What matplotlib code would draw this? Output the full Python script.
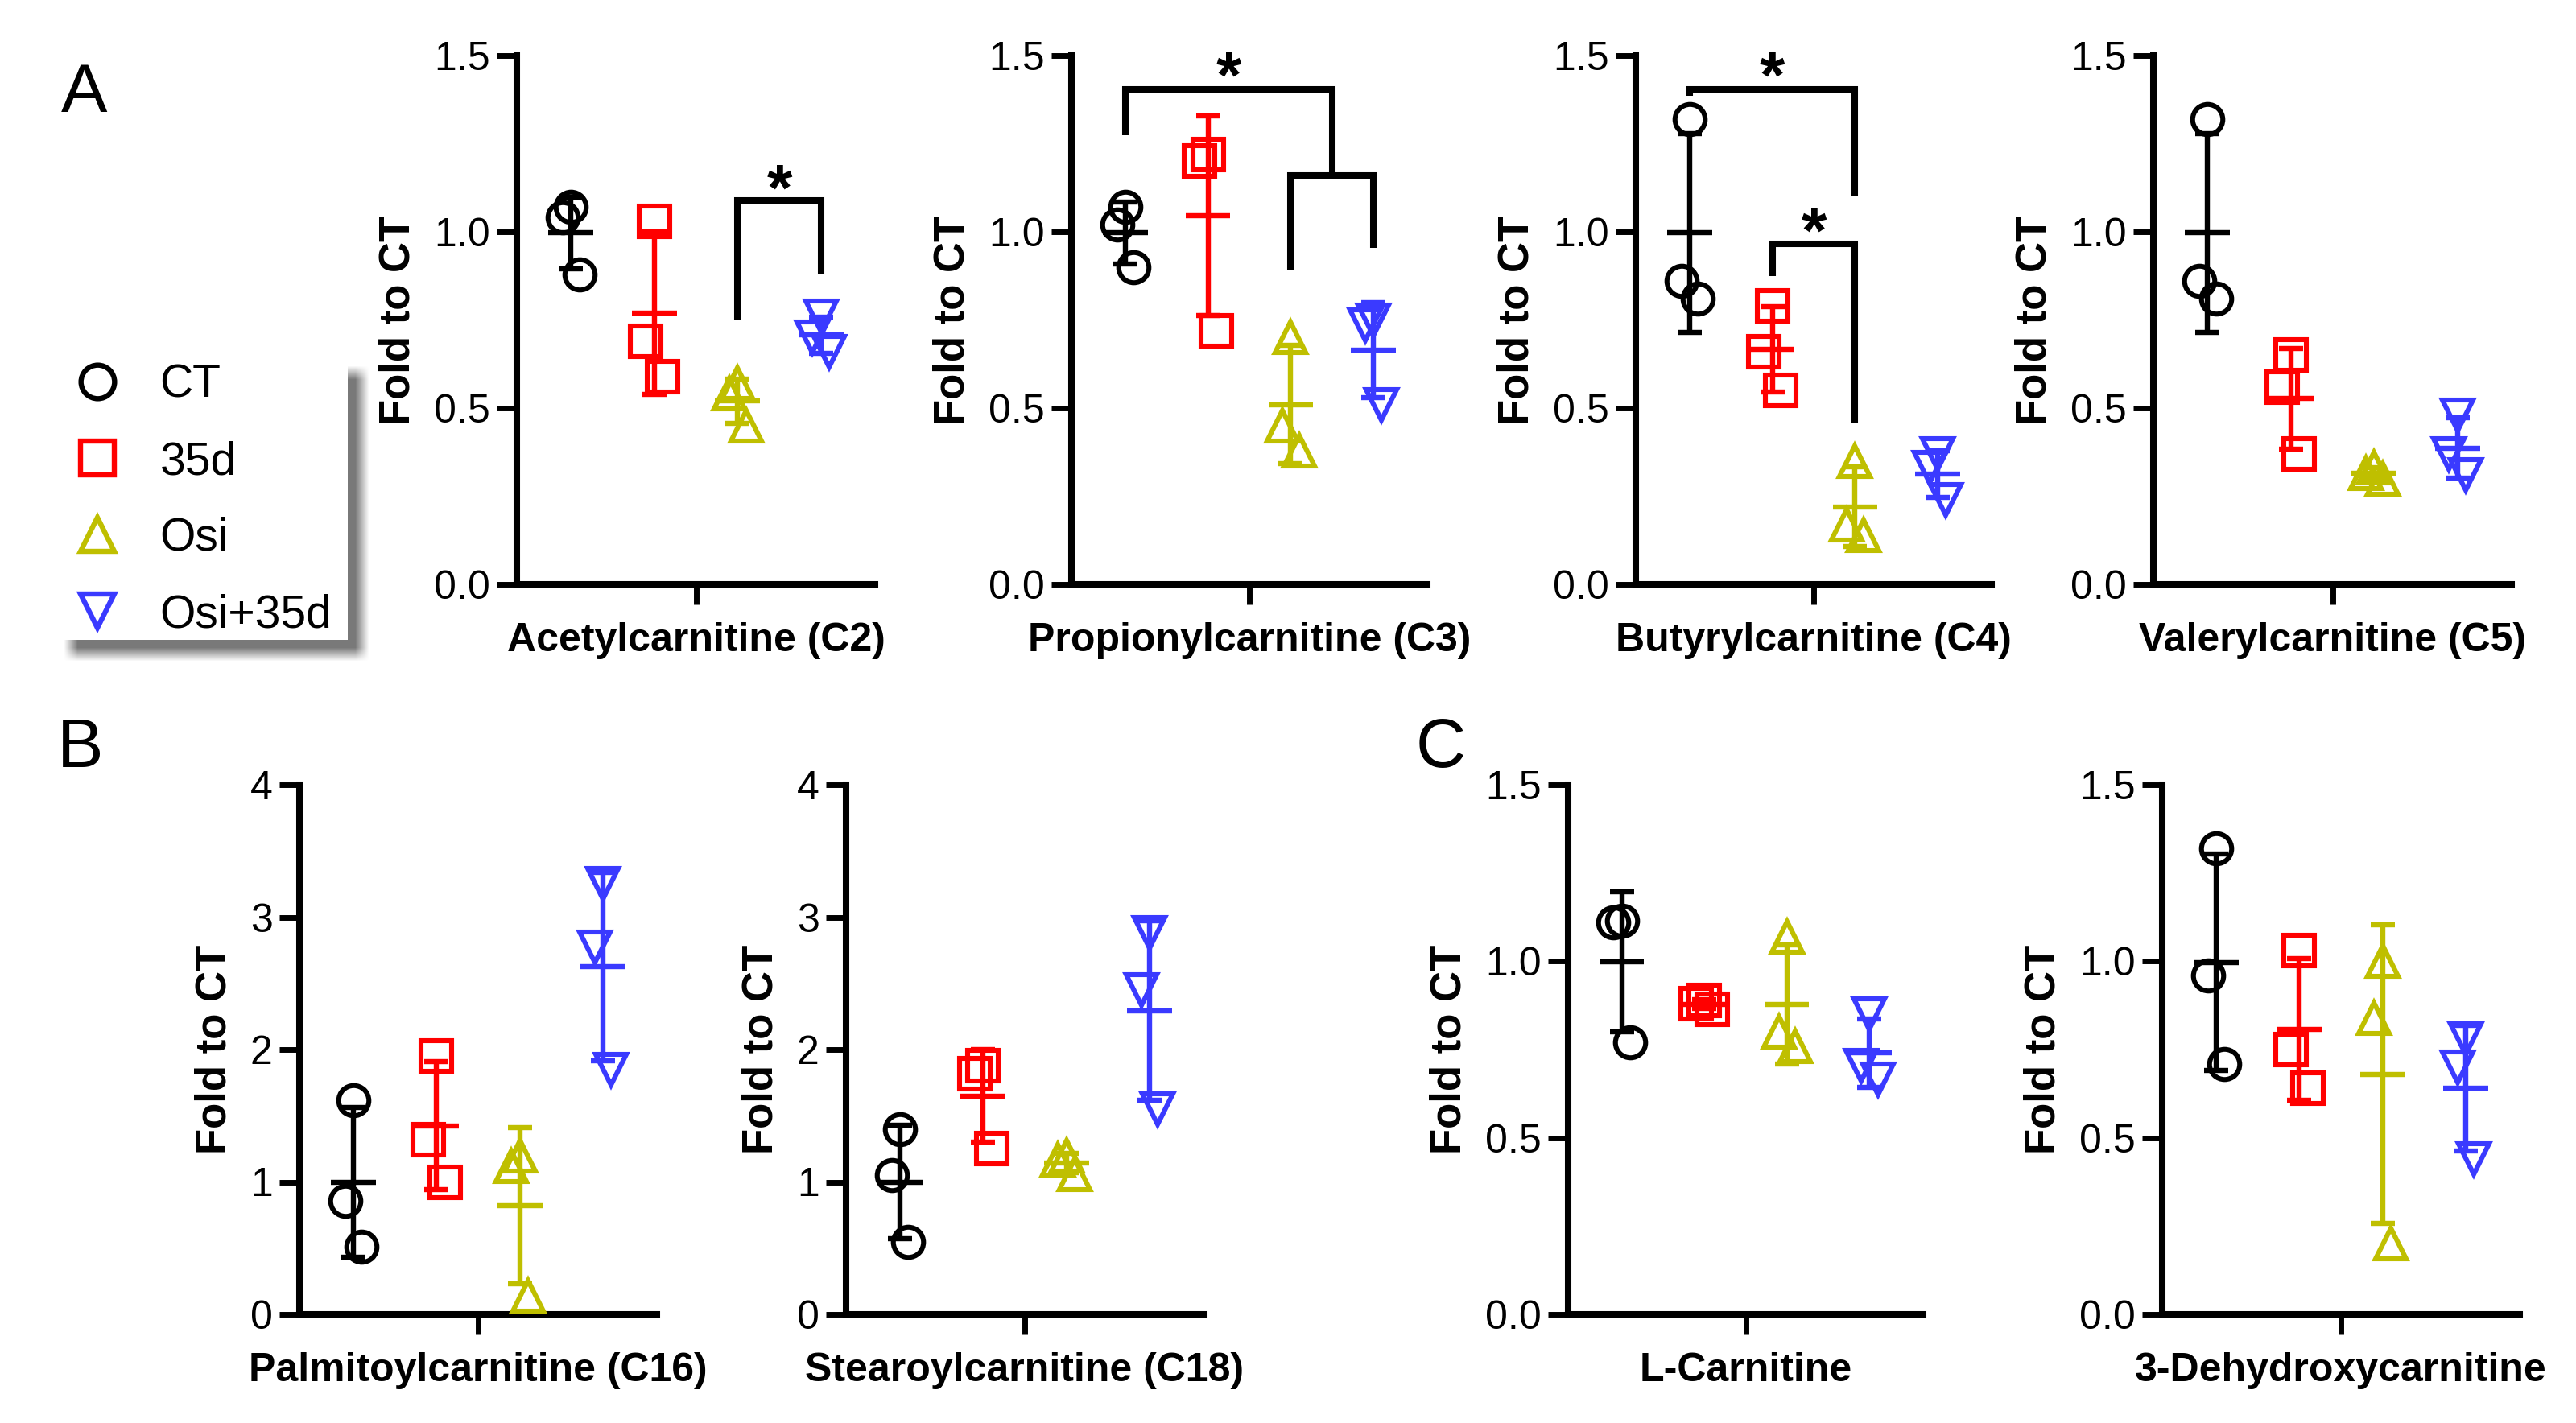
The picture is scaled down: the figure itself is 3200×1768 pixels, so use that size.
import numpy as np
import matplotlib
matplotlib.use("Agg")
import matplotlib.pyplot as plt
from matplotlib.lines import Line2D
from matplotlib.patches import Rectangle

plt.rcParams['font.family'] = ['Liberation Sans', 'DejaVu Sans']

ANCHO, ALTO, DPI = 3200, 1768, 200

# ---------- Datos ----------
grupos = ["CT", "35d", "Osi", "Osi+35d"]
colores = ["black", "#FF0000", "#BFBF00", "#3A3AFF"]
marcadores = ["o", "s", "^", "v"]

# A: acilcarnitinas de cadena corta (fold to CT, 3 replicas por grupo)
acetil = [[1.07, 1.04, 0.88], [1.03, 0.69, 0.59], [0.57, 0.54, 0.45], [0.76, 0.70, 0.66]]
propionil = [[1.07, 1.02, 0.90], [1.22, 1.20, 0.72], [0.70, 0.45, 0.38], [0.75, 0.735, 0.51]]
butiril = [[1.32, 0.86, 0.81], [0.79, 0.66, 0.55], [0.35, 0.17, 0.14], [0.37, 0.33, 0.24]]
valeril = [[1.32, 0.86, 0.81], [0.65, 0.56, 0.37], [0.33, 0.315, 0.30], [0.48, 0.37, 0.31]]
# B: cadena larga
palmitoil = [[1.62, 0.86, 0.51], [1.95, 1.32, 1.00], [1.20, 1.12, 0.14], [3.25, 2.77, 1.85]]
estearoil = [[1.40, 1.05, 0.55], [1.88, 1.82, 1.25], [1.20, 1.17, 1.06], [2.88, 2.45, 1.55]]
# C: carnitinas libres
l_carnitina = [[1.115, 1.11, 0.77], [0.89, 0.88, 0.865], [1.07, 0.80, 0.76], [0.85, 0.705, 0.665]]
dehidroxi = [[1.32, 0.96, 0.71], [1.03, 0.75, 0.64], [1.00, 0.84, 0.20], [0.78, 0.70, 0.44]]

nombres = ["Acetylcarnitine (C2)", "Propionylcarnitine (C3)", "Butyrylcarnitine (C4)",
           "Valerylcarnitine (C5)", "Palmitoylcarnitine (C16)", "Stearoylcarnitine (C18)",
           "L-Carnitine", "3-Dehydroxycarnitine"]

ticks_15 = [0.0, 0.5, 1.0, 1.5]
ticks_4 = [0, 1, 2, 3, 4]

# corchetes de significancia: (x1, x2, y_arriba, y_pata1, y_pata2) y asteriscos (x, y)
corchetes_c2 = [(2, 3, 1.09, 0.75, 0.88)]
estrellas_c2 = [(2.5, 1.17)]
corchetes_c3 = [(0, 2.5, 1.405, 1.275, 1.16), (2, 3, 1.16, 0.89, 0.955)]
estrellas_c3 = [(1.25, 1.49)]
corchetes_c4 = [(0, 2, 1.405, 1.385, 1.10), (1, 2, 0.965, 0.875, 0.46)]
estrellas_c4 = [(1.0, 1.49), (1.5, 1.05)]

JITTER = [0.0, -0.1, 0.1]


# ---------- Utilidades ----------
def px_a_fig(x0, y0, x1, y1):
    # caja en pixeles (origen arriba-izquierda) -> [izq, abajo, ancho, alto] de figura
    return [x0 / ANCHO, 1 - y1 / ALTO, (x1 - x0) / ANCHO, (y1 - y0) / ALTO]


def panel(fig, caja, datos, nombre, ymax, yticks, fmt, corchetes=(), estrellas=()):
    ax = fig.add_axes(px_a_fig(*caja))
    for i, vals in enumerate(datos):
        vals = np.array(vals)
        m = vals.mean(); sd = vals.std(ddof=1)
        ax.errorbar(i, m, yerr=sd, fmt='none', ecolor=colores[i], elinewidth=2.3,
                    capsize=5.5, capthick=2.3, zorder=2)
        ax.hlines(m, i - 0.27, i + 0.27, color=colores[i], lw=2.3, zorder=2)
        xs = i + np.array(JITTER[:len(vals)])
        ax.plot(xs, vals, ls='none', marker=marcadores[i], ms=13.5, mew=2.2,
                mfc='none', mec=colores[i], zorder=3, clip_on=False)
    for x1, x2, yt, yb1, yb2 in corchetes:
        ax.plot([x1, x1, x2, x2], [yb1, yt, yt, yb2], color='black', lw=2.9,
                solid_joinstyle='miter', solid_capstyle='butt', clip_on=False)
    for x, y in estrellas:
        ax.annotate('*', (x, y), xytext=(0, -17), textcoords='offset points',
                    ha='center', va='baseline', fontsize=29, fontweight='bold')
    ax.set_xlim(-0.65, 3.65); ax.set_ylim(0, ymax)
    ax.set_yticks(yticks, [fmt.format(t) for t in yticks])
    ax.set_xticks([1.5], [nombre])
    for lab in ax.get_xticklabels():
        lab.set_fontweight('bold'); lab.set_fontsize(18)
    ax.tick_params(axis='y', length=9, width=2.5, pad=3, labelsize=18)
    ax.tick_params(axis='x', length=9, width=2.5, pad=8)
    ax.spines[['top', 'right']].set_visible(False)
    ax.spines[['left', 'bottom']].set_linewidth(2.9)
    ax.set_ylabel('Fold to CT', fontweight='bold', fontsize=19, labelpad=7)
    return ax


def sombra(fig, x0, y0, x1, y1, off=18, blur=8):
    # sombra difusa de la caja de leyenda (pixeles, origen arriba-izquierda)
    pad = 3 * blur
    w = x1 - x0 + 2 * pad; h = y1 - y0 + 2 * pad
    m = np.zeros((h, w))
    m[pad:h - pad, pad:w - pad] = 1
    k = np.ones(2 * blur + 1) / (2 * blur + 1)
    m = np.apply_along_axis(lambda r: np.convolve(r, k, mode='same'), 1, m)
    m = np.apply_along_axis(lambda c: np.convolve(c, k, mode='same'), 0, m)
    img = np.zeros((h, w, 4)); img[..., :3] = 0.45; img[..., 3] = m * 0.95
    fig.figimage(img, xo=x0 + off - pad, yo=ALTO - (y1 + off + pad), origin='upper', zorder=1)
    fig.add_artist(Rectangle((x0 / ANCHO, 1 - y1 / ALTO), (x1 - x0) / ANCHO, (y1 - y0) / ALTO,
                             transform=fig.transFigure, facecolor='white', edgecolor='none', zorder=1.5))


# ---------- Figura ----------
fig = plt.figure(figsize=(ANCHO / DPI, ALTO / DPI), dpi=DPI)

fila1 = (69, 726)
fila2 = (975, 1633)
panel(fig, (642, fila1[0], 1087, fila1[1]), acetil, nombres[0], 1.5, ticks_15, "{:.1f}", corchetes_c2, estrellas_c2)
panel(fig, (1331, fila1[0], 1773, fila1[1]), propionil, nombres[1], 1.5, ticks_15, "{:.1f}", corchetes_c3, estrellas_c3)
panel(fig, (2032, fila1[0], 2474, fila1[1]), butiril, nombres[2], 1.5, ticks_15, "{:.1f}", corchetes_c4, estrellas_c4)
panel(fig, (2675, fila1[0], 3120, fila1[1]), valeril, nombres[3], 1.5, ticks_15, "{:.1f}")
panel(fig, (372, fila2[0], 816, fila2[1]), palmitoil, nombres[4], 4, ticks_4, "{:d}")
panel(fig, (1051, fila2[0], 1495, fila2[1]), estearoil, nombres[5], 4, ticks_4, "{:d}")
panel(fig, (1948, fila2[0], 2389, fila2[1]), l_carnitina, nombres[6], 1.5, ticks_15, "{:.1f}")
panel(fig, (2686, fila2[0], 3130, fila2[1]), dehidroxi, nombres[7], 1.5, ticks_15, "{:.1f}")

# letras de panel
fig.text(76 / ANCHO, 1 - 139 / ALTO, "A", fontsize=31, va='baseline')
fig.text(71 / ANCHO, 1 - 953 / ALTO, "B", fontsize=31, va='baseline')
fig.text(1759 / ANCHO, 1 - 953 / ALTO, "C", fontsize=31, va='baseline')

# leyenda con sombra
sombra(fig, 70, 445, 432, 795)
manejadores = [Line2D([], [], ls='none', marker=mk, ms=15, mew=2.3, mfc='none', mec=c)
               for mk, c in zip(marcadores, colores)]
leg = fig.legend(manejadores, grupos, loc='upper left', bbox_to_anchor=(93 / ANCHO, 1 - 452 / ALTO),
                 frameon=False, fontsize=20.5, handlelength=1.0, handletextpad=0.85,
                 labelspacing=0.72, borderpad=0, borderaxespad=0)
leg.set_zorder(5)

fig.savefig("out.png", dpi=DPI)
